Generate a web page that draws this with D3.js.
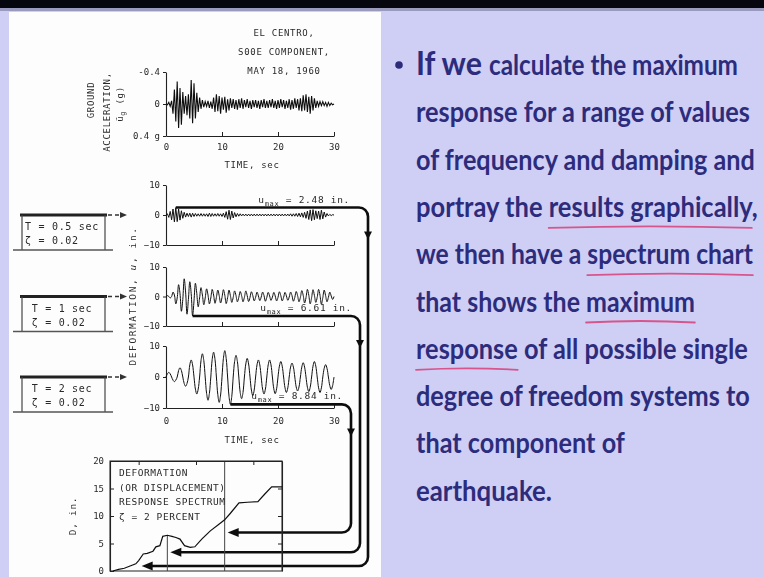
<!DOCTYPE html>
<html>
<head>
<meta charset="utf-8">
<title>Deformation response spectrum</title>
<style>
body { margin: 0; background: #cfcff5; overflow: hidden; }
svg { display: block; }
.mono { font-family: "DejaVu Sans Mono", "Liberation Mono", monospace; fill: #2a2a2a; }
.slide { font-family: Lato, "Open Sans", sans-serif; font-weight: 700; fill: #2d2c7c; }
</style>
</head>
<body>
<div id="graphic"></div>
<script src="https://cdn.jsdelivr.net/npm/d3@7"></script>
<script>
// values, one sample every 0.25 s from 0 to 30 s
var timeStep = 0.25;

var groundAccel = [
  0, 0.01, -0.02, 0.03, -0.04,
  0.12, -0.18, 0.22, -0.28, 0.30, -0.20, 0.26, -0.15,
  0.12, -0.10, 0.14, -0.12,
  0.18, -0.30, 0.24, -0.26, 0.18, -0.14,
  0.10, -0.08, 0.06, -0.05, 0.04, -0.03,
  0.03, -0.04, 0.05, -0.03, 0.06, -0.08,
  0.10, -0.12, 0.09, -0.10, 0.12, -0.08,
  0.07, -0.09, 0.11, -0.06, 0.08, -0.07, 0.05, -0.06,
  0.06, -0.05, 0.07, -0.06, 0.05, -0.07, 0.06, -0.05, 0.04, -0.06, 0.05, -0.04, 0.06, -0.05, 0.04, -0.05,
  0.05, -0.04, 0.06, -0.05, 0.04, -0.06, 0.05, -0.04, 0.05, -0.05, 0.04, -0.06, 0.05, -0.04, 0.06, -0.05,
  0.05, -0.06, 0.04, -0.05, 0.06, -0.04, 0.05, -0.06, 0.07, -0.05, 0.06, -0.07, 0.05, -0.06, 0.08, -0.07,
  0.09, -0.11, 0.08, -0.12, 0.10, -0.09, 0.12, -0.10, 0.08, -0.07, 0.05, -0.04,
  0.03, -0.03, 0.02, -0.03, 0.02, -0.02, 0.03, -0.02, 0.02, -0.01, 0.01, 0
];

var deformT05 = [
  0, 0.4, -0.8, 1.2, -1.6,
  2.0, -2.3, 2.48, -2.2, 2.0, -1.7, 1.4, -1.1,
  0.9, -0.7, 0.6, -0.5,
  0.6, -0.7, 0.6, -0.5, 0.5, -0.4,
  0.4, -0.4, 0.5, -0.4, 0.4, -0.4,
  0.4, -0.5, 0.6, -0.5, 0.5, -0.4,
  0.4, -0.4, 0.5, -0.4, 0.4, -0.5,
  0.6, -0.8, 1.1, -1.4, 1.6, -1.5, 1.3, -1.0,
  0.8, -0.6, 0.5, -0.4, 0.4, -0.3, 0.3, -0.3, 0.3, -0.3, 0.3, -0.3, 0.3, -0.3, 0.3, -0.3,
  0.3, -0.3, 0.3, -0.3, 0.3, -0.3, 0.3, -0.3, 0.3, -0.3, 0.3, -0.3, 0.3, -0.3, 0.3, -0.3,
  0.3, -0.3, 0.3, -0.3, 0.3, -0.3, 0.3, -0.3, 0.4, -0.4, 0.4, -0.4, 0.5, -0.5, 0.6, -0.6,
  0.7, -0.8, 0.9, -1.1, 1.3, -1.5, 1.7, -1.9, 1.8, -1.6, 1.4, -1.2,
  1.3, -1.5, 1.6, -1.3, 1.0, -0.7, 0.5, -0.3, 0.2, -0.2, 0.1, 0
];

var deformT1 = [
  0, 0.3, 0, -0.5, 0,
  1.5, 0.5, -2.5, -0.5, 4.0, 1.0, -5.0, -1.0,
  6.0, 1.5, -6.0, -1.0,
  5.0, 1.0, -6.61, -1.5, 4.5, 1.0,
  -3.5, -0.5, 3.0, 0.5, -2.8, -0.5,
  2.6, 0.5, -2.5, -0.5, 2.4, 0.5,
  -2.3, -0.3, 2.2, 0.3, -2.2, -0.3,
  2.3, 0.4, -2.4, -0.4, 2.2, 0.3, -2.0, -0.3,
  1.9, 0.3, -1.8, -0.3, 1.7, 0.3, -1.8, -0.3, 1.9, 0.3, -1.7, -0.3, 1.6, 0.3, -1.5, -0.3,
  1.5, 0.2, -1.4, -0.2, 1.5, 0.3, -1.6, -0.3, 1.4, 0.2, -1.3, -0.2, 1.4, 0.2, -1.5, -0.3,
  1.6, 0.3, -1.5, -0.3, 1.4, 0.2, -1.3, -0.2, 1.5, 0.3, -1.6, -0.3, 1.7, 0.3, -1.8, -0.3,
  2.0, 0.4, -2.2, -0.4, 2.4, 0.4, -2.5, -0.4, 2.3, 0.4, -2.0, -0.3,
  2.4, 0.4, -2.6, -0.4, 2.2, 0.3, -1.8, -0.3, 1.5, 0.2, -1.0, 0
];

var deformT2 = [
  0, 1.0, 1.5, 1.0, 0, -1.0, -1.5, -1.0,
  0, 2.1, 3.0, 2.1, 0, -2.1, -3.0, -2.1,
  0, 3.9, 5.5, 3.9, 0, -3.9, -5.5, -3.9,
  0, 5.3, 7.5, 5.3, 0, -5.3, -7.5, -5.3,
  0, 5.7, 8.0, 5.7, 0, -5.7, -8.2, -5.8,
  0, 6.0, 8.5, 6.0, 0, -6.2, -8.84, -6.2,
  0, 5.0, 7.0, 5.0, 0, -5.0, -7.0, -5.0,
  0, 4.2, 6.0, 4.2, 0, -4.2, -6.0, -4.2,
  0, 3.9, 5.5, 3.9, 0, -3.9, -5.5, -3.9,
  0, 3.9, 5.5, 3.9, 0, -3.8, -5.4, -3.8,
  0, 3.5, 5.0, 3.5, 0, -3.5, -5.0, -3.5,
  0, 3.2, 4.5, 3.2, 0, -3.2, -4.5, -3.2,
  0, 3.2, 4.6, 3.2, 0, -3.3, -4.7, -3.3,
  0, 3.5, 5.0, 3.5, 0, -3.5, -5.0, -3.5,
  0, 2.8, 4.0, 2.8, 0, -2.8, -4.0, -2.8,
  0
];

var periods = [0.5, 1, 2];
var periodLabels = ["T = 0.5 sec", "T = 1 sec", "T = 2 sec"];
var dampingLabels = ["\u03b6 = 0.02", "\u03b6 = 0.02", "\u03b6 = 0.02"];
var uMaxLabels = ["2.48", "6.61", "8.84"];
var arrowSd = [0.9, 3.4, 7.0];

var timeTicks = [0, 10, 20, 30];
var accelTicks = [-0.4, 0, 0.4];
var accelTickLabels = ["-0.4", "0", "0.4 g"];
var deformTicks = [-10, 0, 10];

var spectrumT = [0.05, 0.15, 0.25, 0.35, 0.45, 0.5, 0.58, 0.65, 0.75, 0.8, 0.87, 0.92, 1.0, 1.08, 1.15,
                 1.22, 1.3, 1.4, 1.48, 1.6, 1.75, 1.9, 2.0, 2.1, 2.25, 2.4, 2.58, 2.7, 2.82, 3.0];
var spectrumSd = [0, 0.3, 0.5, 0.9, 1.3, 1.9, 3.1, 3.2, 3.6, 4.4, 4.6, 6.3, 6.5, 6.3, 6.1,
                  5.8, 4.6, 4.3, 4.4, 5.8, 7.3, 8.5, 9.3, 10.5, 12.4, 12.5, 12.6, 14.0, 15.3, 15.3];
var sdTicks = [0, 5, 10, 15, 20];
var spectrumTTicks = [0.5, 1.5, 2.5];

var titleLines = ["EL CENTRO,", "S00E COMPONENT,", "MAY 18, 1960"];
var spectrumNote = ["DEFORMATION", "(OR DISPLACEMENT)", "RESPONSE SPECTRUM", "\u03b6 = 2 PERCENT"];

var leadWords = "If we";
var bulletLines = [
  "calculate the maximum",
  "response for a range of values",
  "of frequency and damping and",
  "portray the results graphically,",
  "we then have a spectrum chart",
  "that shows the maximum",
  "response of all possible single",
  "degree of freedom systems to",
  "that component of",
  "earthquake."
];
var underlined = [[3, "results graphically"], [4, "spectrum chart"], [5, "maximum"], [6, "response"]];


var W = 764, H = 577;
var svg = d3.select("#graphic").append("svg").attr("width", W).attr("height", H);

svg.append("rect").attr("width", W).attr("height", H).attr("fill", "#cfcff5");
svg.append("rect").attr("width", W).attr("height", 8).attr("fill", "#06060e");
svg.append("rect").attr("y", 8).attr("width", W).attr("height", 3).attr("fill", "#9a9abf");
svg.append("rect").attr("x", 9).attr("y", 12).attr("width", 372).attr("height", H - 12).attr("fill", "#fdfdfd");

svg.append("defs").append("filter").attr("id", "soft")
    .append("feGaussianBlur").attr("stdDeviation", 0.35);

var fig = svg.append("g").attr("filter", "url(#soft)");

var x = d3.scaleLinear().domain([0, 30]).range([166, 334]);
function tOf(i) { return i * timeStep; }

function axisStyle(g) {
    g.attr("font-family", null).attr("font-size", null);
    g.selectAll(".domain").attr("stroke", "#222").attr("stroke-width", 1.1);
    g.selectAll(".tick line").attr("stroke", "#222");
    g.selectAll(".tick text").attr("class", "mono").attr("font-size", 9).attr("fill", "#2a2a2a");
}

function monoText(parent, tx, ty, s, size, anchor) {
    return parent.append("text").attr("class", "mono")
        .attr("x", tx).attr("y", ty)
        .attr("font-size", size || 9)
        .attr("letter-spacing", 0.7)
        .attr("text-anchor", anchor || "start")
        .text(s);
}

// ---- ground acceleration ----
var yG = d3.scaleLinear().domain([-0.4, 0.4]).range([72, 136]);

fig.append("g").attr("transform", "translate(166,0)")
    .call(d3.axisLeft(yG).tickValues(accelTicks).tickSize(3).tickSizeOuter(0).tickPadding(3)
        .tickFormat(function(d, i) { return accelTickLabels[i]; }))
    .call(axisStyle);

fig.append("g").attr("transform", "translate(0," + yG(0.4) + ")")
    .call(d3.axisBottom(x).tickValues(timeTicks).tickSize(-4).tickSizeOuter(0).tickPadding(8))
    .call(axisStyle);

fig.append("path").datum(groundAccel)
    .attr("d", d3.line().x(function(d, i) { return x(tOf(i)); }).y(function(d) { return yG(d); }))
    .attr("fill", "none").attr("stroke", "#111").attr("stroke-width", 1.1);

titleLines.forEach(function(s, i) {
    monoText(fig, 284, 36 + i * 19, s, 9, "middle");
});
monoText(fig, 252, 168, "TIME, sec", 9, "middle");

monoText(fig, 0, 0, "GROUND", 9, "middle").attr("transform", "translate(94,100) rotate(-90)");
monoText(fig, 0, 0, "ACCELERATION,", 9, "middle").attr("transform", "translate(110,112) rotate(-90)");
var ugl = monoText(fig, 0, 0, "", 9, "middle").attr("transform", "translate(123,104) rotate(-90)");
ugl.append("tspan").text("\u00fc");
ugl.append("tspan").attr("font-size", 7).attr("dy", 2).text("g");
ugl.append("tspan").attr("dy", -2).text(" (g)");

// ---- spectrum scales (needed by the connectors) ----
var sx = d3.scaleLinear().domain([0, 3]).range([110, 282]);
var sy = d3.scaleLinear().domain([0, 20]).range([571, 461]);

// ---- deformation panels ----
var panelRanges = [[245, 185], [326, 267], [408, 346]];
var deformSeries = [deformT05, deformT1, deformT2];
var connectorX = [368, 360, 351];
var labelEndX = [350, 352, 343];

deformSeries.forEach(function(series, k) {
    var y = d3.scaleLinear().domain([-10, 10]).range(panelRanges[k]);
    var g = fig.append("g");

    g.append("g").attr("transform", "translate(166,0)")
        .call(d3.axisLeft(y).tickValues(deformTicks).tickSize(3).tickSizeOuter(0).tickPadding(3))
        .call(axisStyle);

    g.append("g").attr("transform", "translate(0," + y(-10) + ")")
        .call(d3.axisBottom(x).tickValues(timeTicks).tickSize(-4).tickSizeOuter(0).tickPadding(10)
            .tickFormat(k === 2 ? d3.format("d") : function() { return ""; }))
        .call(axisStyle);

    g.append("path").datum(series)
        .attr("d", d3.line().curve(k === 0 ? d3.curveLinear : d3.curveCatmullRom)
            .x(function(d, i) { return x(tOf(i)); })
            .y(function(d) { return y(d); }))
        .attr("fill", "none").attr("stroke", "#111").attr("stroke-width", 1);

    // line from the peak to the spectrum
    var ip = d3.maxIndex(series, function(d) { return Math.abs(d); });
    var px = x(tOf(ip)), py = y(series[ip]);
    var xv = connectorX[k], r = 9;
    var yb = sy(arrowSd[k]);
    var tip = sx(periods[k]) + 3;

    var p = d3.path();
    p.moveTo(px, py);
    p.lineTo(xv - r, py);
    p.arcTo(xv, py, xv, py + r, r);
    p.lineTo(xv, yb - r);
    p.arcTo(xv, yb, xv - r, yb, r);
    p.lineTo(tip + 6, yb);
    g.append("path").attr("d", p.toString())
        .attr("fill", "none").attr("stroke", "#111").attr("stroke-width", 2.6);

    var ay = py + 24;
    g.append("path")
        .attr("d", "M" + (xv - 4) + "," + ay + "L" + (xv + 4) + "," + ay + "L" + xv + "," + (ay + 8) + "Z")
        .attr("fill", "#111");
    g.append("path")
        .attr("d", "M" + tip + "," + yb + "L" + (tip + 11) + "," + (yb - 4.5) + "L" + (tip + 11) + "," + (yb + 4.5) + "Z")
        .attr("fill", "#111");

    var lab = monoText(g, labelEndX[k], py - 5, "", 9.5, "end");
    lab.append("tspan").text("u");
    lab.append("tspan").attr("font-size", 7).attr("dy", 3).text("max");
    lab.append("tspan").attr("dy", -3).text(" = " + uMaxLabels[k] + " in.");

    // SDF system sketch
    var top = y(0), bot = top + 35;
    g.append("line").attr("x1", 20).attr("x2", 107).attr("y1", top).attr("y2", top)
        .attr("stroke", "#222").attr("stroke-width", 3);
    [22, 105].forEach(function(cx) {
        g.append("line").attr("x1", cx).attr("x2", cx).attr("y1", top).attr("y2", bot)
            .attr("stroke", "#444").attr("stroke-width", 1.2);
    });
    g.append("line").attr("x1", 13).attr("x2", 113).attr("y1", bot).attr("y2", bot)
        .attr("stroke", "#555").attr("stroke-width", 1.3);
    var tl = monoText(g, 62, top + 15, periodLabels[k], 10, "middle");
    var x0 = 62 - tl.node().getComputedTextLength() / 2;
    monoText(g, x0, top + 29, dampingLabels[k], 10, "start");

    g.append("line").attr("x1", 108).attr("x2", 120).attr("y1", top).attr("y2", top)
        .attr("stroke", "#333").attr("stroke-width", 1.3).attr("stroke-dasharray", "4,3");
    g.append("path")
        .attr("d", "M127," + top + "L120," + (top - 3) + "L120," + (top + 3) + "Z")
        .attr("fill", "#333");
});

var dl = monoText(fig, 0, 0, "", 9.5, "middle").attr("letter-spacing", 1.6)
    .attr("transform", "translate(136,296) rotate(-90)");
dl.append("tspan").text("DEFORMATION, ");
dl.append("tspan").attr("font-style", "italic").text("u");
dl.append("tspan").text(", in.");

monoText(fig, 252, 443, "TIME, sec", 9, "middle");

// ---- response spectrum ----
var sg = fig.append("g");
sg.append("rect")
    .attr("x", sx(0)).attr("y", sy(20))
    .attr("width", sx(3) - sx(0)).attr("height", sy(0) - sy(20))
    .attr("fill", "none").attr("stroke", "#333").attr("stroke-width", 1.1);

// drop line under the T = 1 s point, full grid line at T = 2 s
var sdAtOne = spectrumSd[spectrumT.indexOf(1.0)];
sg.append("line").attr("x1", sx(1)).attr("x2", sx(1)).attr("y1", sy(sdAtOne)).attr("y2", sy(0))
    .attr("stroke", "#444").attr("stroke-width", 1);
sg.append("line").attr("x1", sx(2)).attr("x2", sx(2)).attr("y1", sy(20)).attr("y2", sy(0))
    .attr("stroke", "#444").attr("stroke-width", 1);

sg.append("g").attr("transform", "translate(" + sx(0) + ",0)")
    .call(d3.axisLeft(sy).tickValues(sdTicks).tickSize(-4).tickSizeOuter(0).tickPadding(6))
    .call(axisStyle);
sg.append("g").attr("transform", "translate(" + sx(3) + ",0)")
    .call(d3.axisRight(sy).tickValues([5, 10, 15]).tickSize(-4).tickSizeOuter(0).tickFormat(function() { return ""; }))
    .call(axisStyle);
sg.append("g").attr("transform", "translate(0," + sy(20) + ")")
    .call(d3.axisTop(sx).tickValues(spectrumTTicks).tickSize(-4).tickSizeOuter(0).tickFormat(function() { return ""; }))
    .call(axisStyle);

sg.append("path").datum(d3.zip(spectrumT, spectrumSd))
    .attr("d", d3.line().x(function(d) { return sx(d[0]); }).y(function(d) { return sy(d[1]); }))
    .attr("fill", "none").attr("stroke", "#111").attr("stroke-width", 1.2);

spectrumNote.forEach(function(s, i) {
    monoText(sg, 119, 476 + i * 14.5, s, 9.5, "start").attr("letter-spacing", 0.55);
});

var sl = monoText(sg, 0, 0, "", 9.5, "middle").attr("transform", "translate(76,516) rotate(-90)");
sl.append("tspan").text("D, in.");

// ---- slide text ----
var tg = svg.append("g").attr("class", "slide");
function baseY(i) { return 75 + i * 47.3; }
var rightEdges = [738, 750, 755, 758, 753, 695, 748, 750, 625, 552];

// squeeze a line horizontally to the width it has on the slide
function fitLine(s, x0, y0, size, target) {
    var g = tg.append("g");
    var t = g.append("text").attr("x", 0).attr("y", 0).attr("font-size", size).text(s);
    var k = target / t.node().getComputedTextLength();
    g.attr("transform", "translate(" + x0 + "," + y0 + ") scale(" + k + ",1)");
    return { node: t.node(), k: k };
}

tg.append("circle").attr("cx", 399).attr("cy", baseY(0) - 10).attr("r", 3.8).attr("fill", "#2d2c7c");
fitLine(leadWords, 416, baseY(0), 33, 482 - 416);

bulletLines.forEach(function(s, i) {
    var x0 = i === 0 ? 489 : 416;
    var f = fitLine(s, x0, baseY(i), 28, rightEdges[i] - x0);
    underlined.filter(function(u) { return u[0] === i; }).forEach(function(u) {
        var a = s.indexOf(u[1]);
        var ux0 = x0 + f.node.getSubStringLength(0, a) * f.k;
        var ux1 = x0 + f.node.getSubStringLength(0, a + u[1].length) * f.k;
        var uy = baseY(i) + 10;
        svg.append("path")
            .attr("d", "M" + ux0 + "," + (uy + 1) + "Q" + ((ux0 + ux1) / 2) + "," + (uy - 2) + " " + ux1 + "," + (uy + 1))
            .attr("fill", "none").attr("stroke", "#d8407a").attr("stroke-width", 1.8)
            .attr("stroke-linecap", "round").attr("opacity", 0.85);
    });
});
</script>
</body>
</html>
